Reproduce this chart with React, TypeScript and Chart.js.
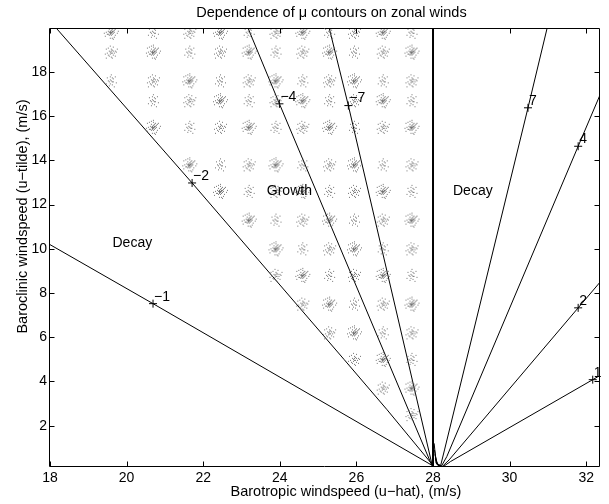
import { useEffect, useRef } from "react";
import { Chart, registerables } from "chart.js";

Chart.register(...registerables);

// Axis ranges and tick marks
const X_MIN = 18;
const X_MAX = 32.36;
const Y_MIN = 0.13;
const Y_MAX = 19.99;
const xTicks = [18, 20, 22, 24, 26, 28, 30, 32];
const yTicks = [2, 4, 6, 8, 10, 12, 14, 16, 18];

// mu contours: (u-hat, u-tilde) vertices
const muNeg1U = [18, 20.69, 27.98];
const muNeg1V = [10.19, 7.52, 0.2];
const muNeg2U = [18.16, 21.71, 25.68, 26.8, 28.0];
const muNeg2V = [19.99, 12.98, 4.99, 2.72, 0.2];
const muNeg4U = [23.17, 23.99, 27.97];
const muNeg4V = [19.99, 16.56, 0.2];
const muNeg7U = [25.29, 25.79, 27.98];
const muNeg7V = [19.99, 16.48, 0.2];
const muPos7U = [30.98, 30.48, 28.3, 28.2, 28.08, 28.03];
const muPos7V = [19.99, 16.38, 0.9, 0.2, 0.3, 1.2];
const muPos4U = [32.36, 31.79, 28.36, 28.22, 28.1, 28.04];
const muPos4V = [16.96, 14.64, 0.6, 0.17, 0.25, 0.9];
const muPos2U = [32.36, 31.79, 28.42, 28.24, 28.12, 28.05];
const muPos2V = [8.49, 7.33, 0.45, 0.15, 0.22, 0.7];
const muPos1U = [32.36, 32.17, 28.46, 28.26, 28.14, 28.06];
const muPos1V = [4.27, 4.08, 0.38, 0.14, 0.2, 0.5];

// mu = 0 boundary
const zeroU = [28, 28];
const zeroV = [Y_MIN, Y_MAX];

// contour labels
const contourLevels = [-1, -2, -4, -7, 7, 4, 2, 1];
const labelU = [20.69, 21.71, 23.99, 25.79, 30.48, 31.79, 31.79, 32.17];
const labelV = [7.52, 12.98, 16.56, 16.48, 16.38, 14.64, 7.33, 4.08];

// region names
const regionNames = ["Decay", "Growth", "Decay"];
const regionU = [20.15, 24.25, 29.04];
const regionV = [10.27, 12.63, 12.63];

// shaded growth region: stipple grid
const stippleU = [19.6, 20.7, 21.65, 22.45, 23.2, 23.9, 24.6, 25.3, 25.95, 26.7, 27.45];
const stippleV = [19.8, 18.9, 17.6, 16.7, 15.5, 13.8, 12.6, 11.3, 10.0, 8.8, 7.5, 6.2, 5.0, 3.7, 2.5];

// dot offsets of the stipple clusters
const speckA = [
  [-6, -4], [-4, -5], [-2, -3], [0, -5], [2, -4], [4, -3], [-5, 0], [-3, -1], [0, 0], [1, -1],
  [3, 0], [6, 1], [-3, 2], [-1, 1], [1, 2], [2, 1], [4, 3], [-6, 4], [-2, 3], [0, 3],
  [3, 5], [-1, 6], [1, 6], [7, -1], [-7, 1], [0, -7], [2, 7], [-2, -6], [1, -3], [-1, 0],
  [-1, -1], [0, 1], [1, 0], [-2, 0], [2, -1], [-1, 2], [0, -2], [3, -2], [-4, 2], [5, -4],
];
const speckB = [
  [-5, -3], [-3, -4], [0, -3], [2, -5], [4, -1], [-4, 1], [-1, 0], [1, 1], [2, 3], [5, 0],
  [-6, 2], [-2, 4], [0, 5], [4, 4], [6, -3], [-1, -6], [1, 6], [-5, 6], [0, 1], [2, -1],
  [-1, 2], [1, -2], [-2, -1], [3, 1], [0, -1], [-3, 3],
];
const speckC = [
  [-4, -3], [-1, -4], [1, -3], [4, -4], [-3, 0], [0, 0], [2, 1], [-5, 3], [-1, 3], [1, 4],
  [5, 2], [0, -6], [-2, 5], [3, 6], [-1, -1], [1, 1], [-2, 1], [2, -2],
];

const FONT = "'Liberation Sans', Arial, Helvetica, sans-serif";

function makeSprite(dots: number[][]): HTMLCanvasElement {
  const c = document.createElement("canvas");
  c.width = 17;
  c.height = 17;
  const g = c.getContext("2d")!;
  g.fillStyle = "rgba(90,90,90,0.85)";
  for (const [dx, dy] of dots) g.fillRect(8 + dx, 8 + dy, 1, 1);
  return c;
}

const pts = (u: number[], v: number[]) => u.map((x, i) => ({ x, y: v[i] }));

const framePlugin = {
  id: "frameAndText",
  afterDatasetsDraw(chart: any) {
    const { ctx, chartArea: a, scales } = chart;
    const xs = scales.x;
    const ys = scales.y;
    ctx.save();
    ctx.strokeStyle = "#000";
    ctx.lineWidth = 1;
    const L = Math.round(a.left) - 0.5;
    const R = Math.round(a.right) - 0.5;
    const T = Math.round(a.top) + 0.5;
    const B = Math.round(a.bottom) - 0.5;
    ctx.beginPath();
    ctx.rect(L, T, R - L, B - T);
    const tl = 5;
    for (const t of xTicks) {
      const px = Math.round(xs.getPixelForValue(t)) + 0.5;
      ctx.moveTo(px, B);
      ctx.lineTo(px, B - tl);
      ctx.moveTo(px, T);
      ctx.lineTo(px, T + tl);
    }
    for (const t of yTicks) {
      const py = Math.round(ys.getPixelForValue(t)) + 0.5;
      ctx.moveTo(L, py);
      ctx.lineTo(L + tl, py);
      ctx.moveTo(R, py);
      ctx.lineTo(R - tl, py);
    }
    ctx.stroke();

    ctx.fillStyle = "#000";
    ctx.font = `14px ${FONT}`;
    ctx.textAlign = "left";
    ctx.textBaseline = "middle";
    contourLevels.forEach((lev, i) => {
      const px = xs.getPixelForValue(labelU[i]);
      const py = ys.getPixelForValue(labelV[i]);
      ctx.fillText(lev < 0 ? `\u2212${-lev}` : `${lev}`, px + 1, py - 7);
    });
    ctx.textAlign = "center";
    regionNames.forEach((name, i) => {
      ctx.fillText(name, xs.getPixelForValue(regionU[i]), ys.getPixelForValue(regionV[i]));
    });

    ctx.font = `14.5px ${FONT}`;
    ctx.textBaseline = "alphabetic";
    ctx.fillText("Dependence of \u03bc contours on zonal winds", 331.5, 16.5);
    ctx.fillText("Barotropic windspeed (u\u2212hat), (m/s)", 346, 496);
    ctx.translate(27, 216.5);
    ctx.rotate(-Math.PI / 2);
    ctx.fillText("Baroclinic windspeed (u\u2212tilde), (m/s)", 0, 0);
    ctx.restore();
  },
};

export default function App() {
  const ref = useRef<HTMLCanvasElement>(null);

  useEffect(() => {
    const sprites = [makeSprite(speckA), makeSprite(speckB), makeSprite(speckC)];
    const stipple: { x: number; y: number; k: number }[] = [];
    stippleV.forEach((v, j) => {
      stippleU.forEach((u, i) => {
        const inside = u < 27.8 && v > 1.96 * (28.05 - u) + 0.6;
        if (inside) stipple.push({ x: u, y: v, k: (i * 2 + j) % 3 });
      });
    });

    const line = (u: number[], v: number[]) => ({
      type: "scatter" as const,
      data: pts(u, v),
      showLine: true,
      borderColor: "#000",
      borderWidth: 1,
      pointRadius: 0,
      tension: 0,
    });

    const chart = new Chart(ref.current!, {
      type: "scatter",
      data: {
        datasets: [
          {
            data: stipple,
            pointStyle: (c: any) => sprites[(c.raw && c.raw.k) || 0],
            pointRadius: 8,
          } as any,
          line(muNeg1U, muNeg1V),
          line(muNeg2U, muNeg2V),
          line(muNeg4U, muNeg4V),
          line(muNeg7U, muNeg7V),
          line(muPos7U, muPos7V),
          line(muPos4U, muPos4V),
          line(muPos2U, muPos2V),
          line(muPos1U, muPos1V),
          { ...line(zeroU, zeroV), borderWidth: 2 },
          {
            data: pts(labelU, labelV),
            pointStyle: "cross",
            pointRadius: 4,
            borderColor: "#000",
            borderWidth: 1,
            showLine: false,
          },
        ],
      },
      options: {
        animation: false,
        responsive: false,
        events: [],
        layout: { padding: { top: 28, right: 4, left: 0, bottom: 0 } },
        plugins: { legend: { display: false }, tooltip: { enabled: false }, title: { display: false } },
        scales: {
          x: {
            type: "linear",
            min: X_MIN,
            max: X_MAX,
            grid: { display: false, drawTicks: false },
            border: { display: false },
            afterBuildTicks: (s: any) => {
              s.ticks = xTicks.map((value) => ({ value }));
            },
            afterFit: (s: any) => {
              s.height = 37;
            },
            ticks: { color: "#000", font: { family: FONT, size: 14 }, padding: 3, autoSkip: false, maxRotation: 0 },
          },
          y: {
            type: "linear",
            min: Y_MIN,
            max: Y_MAX,
            grid: { display: false, drawTicks: false },
            border: { display: false },
            afterBuildTicks: (s: any) => {
              s.ticks = yTicks.map((value) => ({ value }));
            },
            afterFit: (s: any) => {
              s.width = 50;
            },
            ticks: { color: "#000", font: { family: FONT, size: 14 }, padding: 3, autoSkip: false },
          },
        },
      },
      plugins: [framePlugin],
    });
    return () => chart.destroy();
  }, []);

  return (
    <div style={{ position: "absolute", left: 0, top: 0, width: 609, height: 504, background: "#fff" }}>
      <canvas ref={ref} width={609} height={504} style={{ display: "block" }} />
    </div>
  );
}
